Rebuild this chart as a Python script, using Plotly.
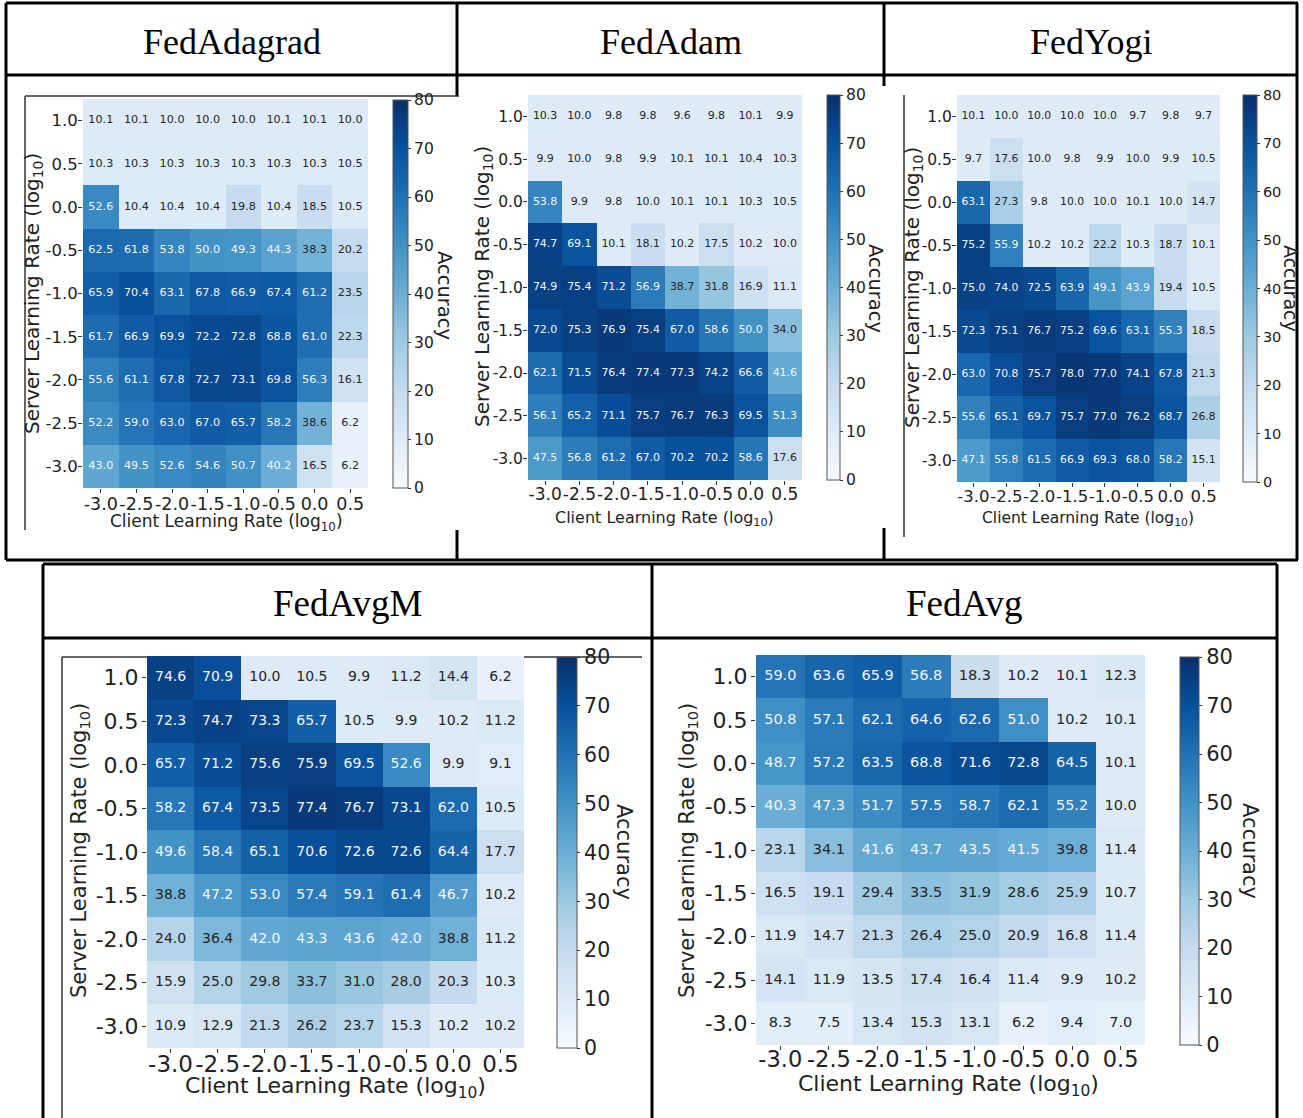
import plotly.graph_objects as go

W, H = 1303, 1118

# ---------------- data ----------------
client_lr = [-3.0, -2.5, -2.0, -1.5, -1.0, -0.5, 0.0, 0.5]
server_lr = [1.0, 0.5, 0.0, -0.5, -1.0, -1.5, -2.0, -2.5, -3.0]
lr_tick_text = ["-3.0", "-2.5", "-2.0", "-1.5", "-1.0", "-0.5", "0.0", "0.5"]
server_tick_text = ["1.0", "0.5", "0.0", "-0.5", "-1.0", "-1.5", "-2.0", "-2.5", "-3.0"]
acc_ticks = [0, 10, 20, 30, 40, 50, 60, 70, 80]

methods = ["FedAdagrad", "FedAdam", "FedYogi", "FedAvgM", "FedAvg"]

fedadagrad = [
    [10.1, 10.1, 10.0, 10.0, 10.0, 10.1, 10.1, 10.0],
    [10.3, 10.3, 10.3, 10.3, 10.3, 10.3, 10.3, 10.5],
    [52.6, 10.4, 10.4, 10.4, 19.8, 10.4, 18.5, 10.5],
    [62.5, 61.8, 53.8, 50.0, 49.3, 44.3, 38.3, 20.2],
    [65.9, 70.4, 63.1, 67.8, 66.9, 67.4, 61.2, 23.5],
    [61.7, 66.9, 69.9, 72.2, 72.8, 68.8, 61.0, 22.3],
    [55.6, 61.1, 67.8, 72.7, 73.1, 69.8, 56.3, 16.1],
    [52.2, 59.0, 63.0, 67.0, 65.7, 58.2, 38.6, 6.2],
    [43.0, 49.5, 52.6, 54.6, 50.7, 40.2, 16.5, 6.2],
]
fedadam = [
    [10.3, 10.0, 9.8, 9.8, 9.6, 9.8, 10.1, 9.9],
    [9.9, 10.0, 9.8, 9.9, 10.1, 10.1, 10.4, 10.3],
    [53.8, 9.9, 9.8, 10.0, 10.1, 10.1, 10.3, 10.5],
    [74.7, 69.1, 10.1, 18.1, 10.2, 17.5, 10.2, 10.0],
    [74.9, 75.4, 71.2, 56.9, 38.7, 31.8, 16.9, 11.1],
    [72.0, 75.3, 76.9, 75.4, 67.0, 58.6, 50.0, 34.0],
    [62.1, 71.5, 76.4, 77.4, 77.3, 74.2, 66.6, 41.6],
    [56.1, 65.2, 71.1, 75.7, 76.7, 76.3, 69.5, 51.3],
    [47.5, 56.8, 61.2, 67.0, 70.2, 70.2, 58.6, 17.6],
]
fedyogi = [
    [10.1, 10.0, 10.0, 10.0, 10.0, 9.7, 9.8, 9.7],
    [9.7, 17.6, 10.0, 9.8, 9.9, 10.0, 9.9, 10.5],
    [63.1, 27.3, 9.8, 10.0, 10.0, 10.1, 10.0, 14.7],
    [75.2, 55.9, 10.2, 10.2, 22.2, 10.3, 18.7, 10.1],
    [75.0, 74.0, 72.5, 63.9, 49.1, 43.9, 19.4, 10.5],
    [72.3, 75.1, 76.7, 75.2, 69.6, 63.1, 55.3, 18.5],
    [63.0, 70.8, 75.7, 78.0, 77.0, 74.1, 67.8, 21.3],
    [55.6, 65.1, 69.7, 75.7, 77.0, 76.2, 68.7, 26.8],
    [47.1, 55.8, 61.5, 66.9, 69.3, 68.0, 58.2, 15.1],
]
fedavgm = [
    [74.6, 70.9, 10.0, 10.5, 9.9, 11.2, 14.4, 6.2],
    [72.3, 74.7, 73.3, 65.7, 10.5, 9.9, 10.2, 11.2],
    [65.7, 71.2, 75.6, 75.9, 69.5, 52.6, 9.9, 9.1],
    [58.2, 67.4, 73.5, 77.4, 76.7, 73.1, 62.0, 10.5],
    [49.6, 58.4, 65.1, 70.6, 72.6, 72.6, 64.4, 17.7],
    [38.8, 47.2, 53.0, 57.4, 59.1, 61.4, 46.7, 10.2],
    [24.0, 36.4, 42.0, 43.3, 43.6, 42.0, 38.8, 11.2],
    [15.9, 25.0, 29.8, 33.7, 31.0, 28.0, 20.3, 10.3],
    [10.9, 12.9, 21.3, 26.2, 23.7, 15.3, 10.2, 10.2],
]
fedavg = [
    [59.0, 63.6, 65.9, 56.8, 18.3, 10.2, 10.1, 12.3],
    [50.8, 57.1, 62.1, 64.6, 62.6, 51.0, 10.2, 10.1],
    [48.7, 57.2, 63.5, 68.8, 71.6, 72.8, 64.5, 10.1],
    [40.3, 47.3, 51.7, 57.5, 58.7, 62.1, 55.2, 10.0],
    [23.1, 34.1, 41.6, 43.7, 43.5, 41.5, 39.8, 11.4],
    [16.5, 19.1, 29.4, 33.5, 31.9, 28.6, 25.9, 10.7],
    [11.9, 14.7, 21.3, 26.4, 25.0, 20.9, 16.8, 11.4],
    [14.1, 11.9, 13.5, 17.4, 16.4, 11.4, 9.9, 10.2],
    [8.3, 7.5, 13.4, 15.3, 13.1, 6.2, 9.4, 7.0],
]
grids = [fedadagrad, fedadam, fedyogi, fedavgm, fedavg]

# ---------------- styling / layout (pixel geometry) ----------------
blues = ['rgb(247,251,255)', 'rgb(222,235,247)', 'rgb(198,219,239)',
         'rgb(158,202,225)', 'rgb(107,174,214)', 'rgb(66,146,198)',
         'rgb(33,113,181)', 'rgb(8,81,156)', 'rgb(8,48,107)']
colorscale = [[i / 8, c] for i, c in enumerate(blues)]

SANS = "DejaVu Sans"
SERIF = "Liberation Serif"
INK = "#222222"

# cells: heatmap box (left, top, right, bottom) in px
# cb: colorbar (left, top, thickness, bottom) in px
panels = [
    dict(cells=(83, 99, 368, 488), xtick=17.5, ytick=16.5, xoff=-4, yoff=-3, cell=11.2,
         cb=(393, 100, 15, 488), cbfont=15.5,
         ytitle=(33, 294, 20), xtitle=(226, 522, 17), acc=(445, 295, 19.5),
         head=(232, 42), headsize=36),
    dict(cells=(528, 95, 802, 480), xtick=17, ytick=15.5, xoff=-5, yoff=-3, cell=11,
         cb=(827, 95, 13, 480), cbfont=15.5,
         ytitle=(483, 287, 20), xtitle=(664, 518, 16), acc=(876, 288, 19.5),
         head=(671, 42), headsize=36),
    dict(cells=(957, 95, 1220, 482), xtick=16.5, ytick=15.5, xoff=-5, yoff=-3, cell=10.8,
         cb=(1243, 95, 14, 482), cbfont=14.5,
         ytitle=(913, 288, 20), xtitle=(1088, 519, 15.5), acc=(1291, 288, 19),
         head=(1091, 42), headsize=36),
    dict(cells=(147, 656, 524, 1048), xtick=23, ytick=22, xoff=-9, yoff=-1, cell=14,
         cb=(557, 657, 20, 1048), cbfont=20.5,
         ytitle=(80, 851, 21), xtitle=(335, 1087, 22), acc=(624, 852, 21),
         head=(347, 603), headsize=37),
    dict(cells=(756, 655, 1145, 1045), xtick=22.5, ytick=22, xoff=-10, yoff=-1, cell=14.5,
         cb=(1180, 657, 19, 1045), cbfont=21,
         ytitle=(688, 850, 21), xtitle=(948, 1085, 22), acc=(1250, 851, 21),
         head=(964, 603), headsize=37),
]


def px(x):
    return x / W


def py(y):
    return 1 - y / H


fig = go.Figure()
layout_axes = {}
annotations = []

for i, (name, grid, p) in enumerate(zip(methods, grids, panels), start=1):
    sfx = "" if i == 1 else str(i)
    xa, ya = "x" + sfx, "y" + sfx
    x0, y0, x1, y1 = p["cells"]
    cbx, cby0, cbw, cby1 = p["cb"]

    fig.add_trace(go.Heatmap(
        z=grid, x=client_lr, y=server_lr, zmin=0, zmax=80,
        colorscale=colorscale, xaxis=xa, yaxis=ya, hoverinfo="skip",
        colorbar=dict(
            x=px(cbx), xanchor="left", y=py(cby0), yanchor="top",
            len=(cby1 - cby0) / H, lenmode="fraction",
            thickness=cbw, thicknessmode="pixels", xpad=0, ypad=0,
            outlinewidth=1, outlinecolor="#555555",
            tickvals=acc_ticks, ticks="outside", ticklen=3, tickwidth=1,
            tickcolor="#333333",
            tickfont=dict(family=SANS, size=p["cbfont"], color=INK),
        ),
    ))

    # annotate each cell with its accuracy value
    xs, ys, texts, colors = [], [], [], []
    for r, s in enumerate(server_lr):
        for c, cl in enumerate(client_lr):
            v = grid[r][c]
            xs.append(cl)
            ys.append(s)
            texts.append(f"{v:.1f}")
            colors.append("#f4f4f4" if v >= 40 else "#262626")
    fig.add_trace(go.Scatter(
        x=xs, y=ys, text=texts, mode="text", xaxis=xa, yaxis=ya,
        textfont=dict(family=SANS, size=p["cell"], color=colors),
        showlegend=False, hoverinfo="skip", cliponaxis=False,
    ))

    layout_axes["xaxis" + sfx] = dict(
        domain=[px(x0), px(x1)], anchor=ya, range=[-3.25, 0.75],
        tickvals=client_lr, ticktext=lr_tick_text, tickangle=0,
        ticks="outside", ticklen=4, tickwidth=1, tickcolor="#333333",
        ticklabelstandoff=p["xoff"],
        tickfont=dict(family=SANS, size=p["xtick"], color=INK),
        showgrid=False, zeroline=False, showline=False, fixedrange=True,
    )
    layout_axes["yaxis" + sfx] = dict(
        domain=[py(y1), py(y0)], anchor=xa, range=[-3.25, 1.25],
        tickvals=server_lr, ticktext=server_tick_text,
        ticks="outside", ticklen=4, tickwidth=1, tickcolor="#333333",
        ticklabelstandoff=p["yoff"],
        tickfont=dict(family=SANS, size=p["ytick"], color=INK),
        showgrid=False, zeroline=False, showline=False, fixedrange=True,
    )

    tx, ty, ts = p["ytitle"]
    annotations.append(dict(
        x=px(tx), y=py(ty), xref="paper", yref="paper", showarrow=False,
        text="Server Learning Rate (log<sub>10</sub>)", textangle=-90,
        font=dict(family=SANS, size=ts, color=INK), xanchor="center", yanchor="middle"))
    tx, ty, ts = p["xtitle"]
    annotations.append(dict(
        x=px(tx), y=py(ty), xref="paper", yref="paper", showarrow=False,
        text="Client Learning Rate (log<sub>10</sub>)",
        font=dict(family=SANS, size=ts, color=INK), xanchor="center", yanchor="middle"))
    tx, ty, ts = p["acc"]
    annotations.append(dict(
        x=px(tx), y=py(ty), xref="paper", yref="paper", showarrow=False,
        text="Accuracy", textangle=90,
        font=dict(family=SANS, size=ts, color=INK), xanchor="center", yanchor="middle"))
    hx, hy = p["head"]
    annotations.append(dict(
        x=px(hx), y=py(hy), xref="paper", yref="paper", showarrow=False,
        text=name, font=dict(family=SERIF, size=p["headsize"], color="black"),
        xanchor="center", yanchor="middle"))

# ---------------- table frame ----------------
shapes = []


def line(xa0, ya0, xa1, ya1, width=3, color="black"):
    shapes.append(dict(type="line", xref="paper", yref="paper",
                       x0=px(xa0), y0=py(ya0), x1=px(xa1), y1=py(ya1),
                       line=dict(color=color, width=width), layer="below"))


def rect(xa0, ya0, xa1, ya1):
    shapes.append(dict(type="rect", xref="paper", yref="paper",
                       x0=px(xa0), y0=py(ya0), x1=px(xa1), y1=py(ya1),
                       fillcolor="white", line=dict(width=0), layer="below"))


# upper table
line(6, 3, 1298, 3)
line(6, 75, 1298, 75)
line(6, 560, 1298, 560)
line(6, 3, 6, 560)
line(1297, 3, 1297, 560)
line(457, 3, 457, 560)
line(884, 3, 884, 560)
# lower table
line(43, 564, 1277, 564)
line(43, 638, 1277, 638)
line(43, 564, 43, 1118)
line(1277, 564, 1277, 1118)
line(652, 564, 652, 1118)

# white backdrops of each chart panel
rect(25, 96, 459, 530)
rect(459, 86, 886, 528)
rect(904, 95, 1295, 537)
rect(62, 657, 642, 1118)
rect(680, 650, 1270, 1092)
# thin panel edges
line(25, 96, 459, 96, width=1.5, color="#333333")
line(25, 96, 25, 530, width=1.5, color="#333333")
line(904, 95, 904, 537, width=1.5, color="#333333")
line(62, 657, 642, 657, width=1.5, color="#333333")
line(62, 657, 62, 1118, width=1.5, color="#333333")

fig.update_layout(
    width=W, height=H,
    margin=dict(l=0, r=0, t=0, b=0, autoexpand=False),
    paper_bgcolor="white", plot_bgcolor="rgba(0,0,0,0)",
    showlegend=False, shapes=shapes, annotations=annotations,
    **layout_axes,
)

fig.write_html("out.html")
